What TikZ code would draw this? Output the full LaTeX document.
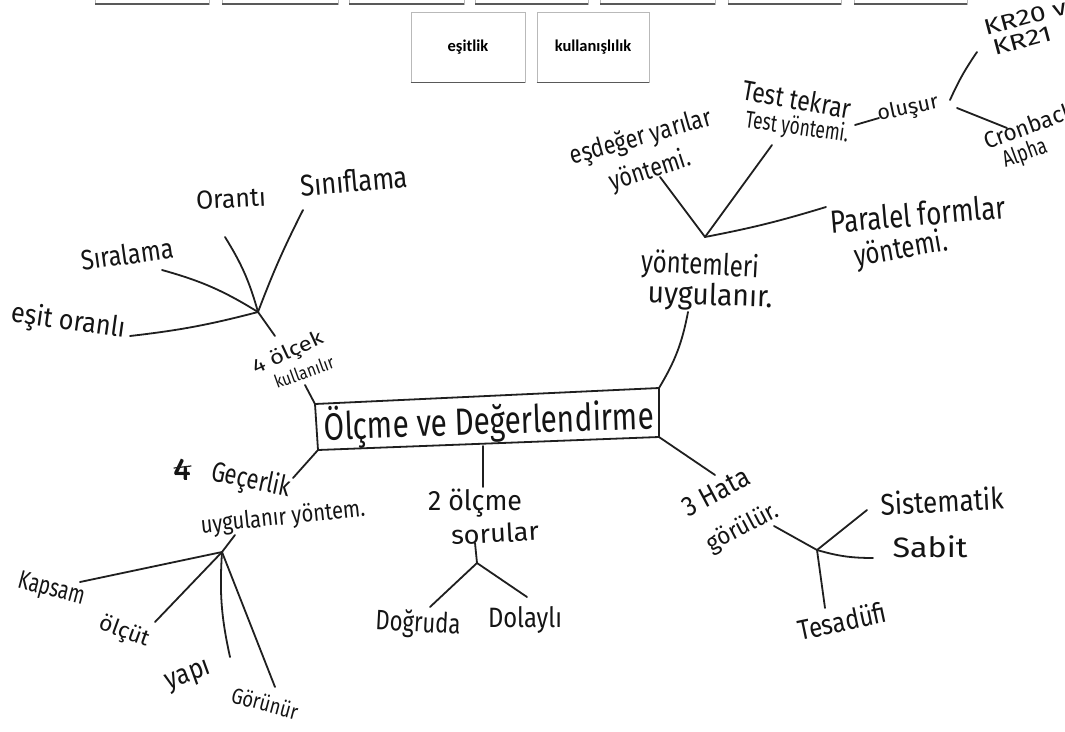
\documentclass[tikz,border=0pt]{standalone}
\usepackage{fontspec}
\usepackage{graphicx}
\setmainfont{Fira Sans}
\newfontfamily\boxfont{Carlito}
% handwritten-looking label: set at a given size, squeezed or stretched to a given width
\newcommand{\hw}[3][28]{\resizebox{#2pt}{\height}{\fontsize{#1}{#1}\selectfont #3}}
\tikzset{
  hand/.style={inner sep=0pt, text=black!92},
  pen/.style={line width=1.8pt, line cap=round, line join=round, draw=black!88},
  topbox/.style={draw=gray!55, line width=0.7pt},
  btnbase/.style={draw=black!65, line width=1.5pt},
  btn/.style={draw=gray!55, line width=0.7pt, minimum height=70pt, inner sep=0pt,
              font=\boxfont\bfseries\fontsize{16.5}{18}\selectfont}
}
\begin{document}
\begin{tikzpicture}[x=1pt,y=-1pt]
\useasboundingbox (0,0) rectangle (1065,731);
\clip (0,0) rectangle (1065,731);
\fill[white] (0,0) rectangle (1065,731);

% row of boxes cut by the upper edge
\foreach \a/\b in {95/209,222/338,349/464,475/588,600/715,728/841,854/967}{
  \draw[topbox] (\a,-20) rectangle (\b,4);
  \draw[btnbase] (\a,4) -- (\b,4);
}

% the two cards
\node[btn, minimum width=114pt] (esitlik) at (468,47) {eşitlik};
\node[btn, minimum width=112pt] (kullan) at (593,47) {kullanışlılık};
\draw[btnbase] (esitlik.south west) -- (esitlik.south east);
\draw[btnbase] (kullan.south west) -- (kullan.south east);

% central box
\coordinate (bTL) at (315,404);
\coordinate (bTR) at (659,388);
\coordinate (bBR) at (659,437);
\coordinate (bBL) at (318,450);
\coordinate (bBot) at (483,446);
\draw[pen] (bTL) -- (bTR) -- (bBR) -- (bBL) -- cycle;
\node[hand, rotate=2] (title) at (489,422) {\hw[38]{330}{Ölçme ve Değerlendirme}};

% ---- scales branch (upper left)
\coordinate (olHub) at (258,312);
\coordinate (olTop) at (275,336);
\coordinate (olBox) at (305,385);
\coordinate (eEnd) at (130,336);
\coordinate (sEnd) at (162,270);
\coordinate (oEnd) at (225,237);
\coordinate (snEnd) at (303,210);
\node[hand, rotate=25] (ol1) at (288,354) {\hw[20]{76}{4 ölçek}};
\node[hand, rotate=20] (ol2) at (304,372) {\hw[18]{62}{kullanılır}};
\node[hand, rotate=-8] (esit) at (68,322) {\hw[28]{115}{eşit oranlı}};
\node[hand, rotate=8] (sira) at (127,254) {\hw[28]{93}{Sıralama}};
\node[hand, rotate=3] (oran) at (231,199) {\hw[26]{70}{Orantı}};
\node[hand, rotate=5] (sinif) at (354,181) {\hw[30]{108}{Sınıflama}};
\draw[pen] (bTL) -- (olBox);
\draw[pen] (olHub) -- (olTop);
\draw[pen] (olHub) to[bend left=4] (eEnd);
\draw[pen] (olHub) to[bend right=8] (sEnd);
\draw[pen] (olHub) to[bend right=8] (oEnd);
\draw[pen] (olHub) to[bend left=3] (snEnd);

% ---- reliability branch (upper right)
\coordinate (yHub) at (705,237);
\coordinate (yLow) at (688,312);
\coordinate (eqEnd) at (660,177);
\coordinate (ttEnd) at (772,145);
\coordinate (pfEnd) at (826,207);
\coordinate (dashA) at (855,125);
\coordinate (dashB) at (879,118);
\coordinate (oHubA) at (950,100);
\coordinate (krEnd) at (977,52);
\coordinate (oHubB) at (957,108);
\coordinate (cbEnd) at (1007,128);
\node[hand, rotate=16] (esdeg) at (641,138) {\hw[26]{146}{eşdeğer yarılar}};
\node[hand, rotate=18] (esdeg2) at (650,171) {\hw[26]{84}{yöntemi.}};
\node[hand, rotate=-10] (test1) at (797,99) {\hw[28]{110}{Test tekrar}};
\node[hand, rotate=-8] (test2) at (797,128) {\hw[24]{104}{Test yöntemi.}};
\node[hand, rotate=12] (olusur) at (908,109) {\hw[21]{62}{oluşur}};
\node[hand, rotate=15, anchor=south west] (kr20) at (986,36) {\hw[22]{100}{KR20 ve}};
\node[hand, rotate=15, anchor=south west] (kr21) at (995,56) {\hw[22]{60}{KR21}};
\node[hand, rotate=20, anchor=south west] (cron) at (987,150) {\hw[23]{96}{Cronbach}};
\node[hand, rotate=20] (alpha) at (1025,154) {\hw[23]{46}{Alpha}};
\node[hand, rotate=5] (par1) at (918,214) {\hw[32]{175}{Paralel formlar}};
\node[hand, rotate=10] (par2) at (901,250) {\hw[30]{94}{yöntemi.}};
\node[hand, rotate=-3] (yon1) at (700,266) {\hw[30]{118}{yöntemleri}};
\node[hand, rotate=-2] (yon2) at (710,297) {\hw[30]{125}{uygulanır.}};
\draw[pen] (bTR) to[bend right=10] (yLow);
\draw[pen] (yHub) -- (eqEnd);
\draw[pen] (yHub) -- (ttEnd);
\draw[pen] (yHub) to[bend right=3] (pfEnd);
\draw[pen] (dashA) -- (dashB);
\draw[pen] (oHubA) to[bend left=5] (krEnd);
\draw[pen] (oHubB) -- (cbEnd);

% ---- validity branch (lower left)
\coordinate (gBox) at (293,478);
\coordinate (gHub) at (222,552);
\coordinate (gTop) at (235,535);
\coordinate (kEnd) at (80,582);
\coordinate (olcEnd) at (155,622);
\coordinate (yapEnd) at (230,657);
\coordinate (gorEnd) at (275,687);
\node[hand] (four) at (182,470) {\hw[30]{18}{\rlap{\raisebox{1pt}{4}}\kern0.6pt4}};
\draw[pen, line width=1.2pt] (174,468) -- (191,466);
\node[hand, rotate=-12] (gec1) at (251,481) {\hw[28]{80}{Geçerlik}};
\node[hand, rotate=6] (gec2) at (283,518) {\hw[24]{165}{uygulanır yöntem.}};
\node[hand, rotate=-15] (kap) at (51,590) {\hw[26]{68}{Kapsam}};
\node[hand, rotate=-20] (olcut) at (124,632) {\hw[22]{52}{ölçüt}};
\node[hand, rotate=20] (yapi) at (189,677) {\hw[28]{46}{yapı}};
\node[hand, rotate=-15] (gor) at (265,703) {\hw[22]{68}{Görünür}};
\draw[pen] (bBL) -- (gBox);
\draw[pen] (gHub) -- (gTop);
\draw[pen] (gHub) -- (kEnd);
\draw[pen] (gHub) -- (olcEnd);
\draw[pen] (gHub) to[bend right=8] (yapEnd);
\draw[pen] (gHub) -- (gorEnd);

% ---- measurement branch (bottom middle)
\coordinate (mLow) at (483,487);
\coordinate (mHub) at (477,563);
\coordinate (mTop) at (475,543);
\coordinate (dEnd) at (430,607);
\coordinate (dlEnd) at (527,597);
\node[hand] (olc1) at (475,503) {\hw[28]{94}{2 ölçme}};
\node[hand, rotate=3] (olc2) at (495,533) {\hw[26]{88}{sorular}};
\node[hand, rotate=-3] (dogru) at (418,624) {\hw[28]{85}{Doğruda}};
\node[hand] (dolay) at (525,620) {\hw[28]{74}{Dolaylı}};
\draw[pen] (bBot) -- (mLow);
\draw[pen] (mHub) -- (mTop);
\draw[pen] (mHub) -- (dEnd);
\draw[pen] (mHub) -- (dlEnd);

% ---- error branch (lower right)
\coordinate (hBox) at (715,475);
\coordinate (hHub) at (817,550);
\coordinate (hUp) at (774,526);
\coordinate (siEnd) at (867,510);
\coordinate (saEnd) at (873,558);
\coordinate (teEnd) at (825,608);
\node[hand, rotate=28] (hata1) at (716,492) {\hw[28]{72}{3 Hata}};
\node[hand, rotate=28] (hata2) at (743,528) {\hw[24]{78}{görülür.}};
\node[hand, rotate=3] (sis) at (942,501) {\hw[30]{123}{Sistematik}};
\node[hand] (sab) at (930,547) {\hw[28]{75}{Sabit}};
\node[hand, rotate=12] (tes) at (842,621) {\hw[28]{90}{Tesadüfi}};
\draw[pen] (bBR) -- (hBox);
\draw[pen] (hHub) -- (hUp);
\draw[pen] (hHub) -- (siEnd);
\draw[pen] (hHub) to[bend right=8] (saEnd);
\draw[pen] (hHub) -- (teEnd);
\end{tikzpicture}
\end{document}
